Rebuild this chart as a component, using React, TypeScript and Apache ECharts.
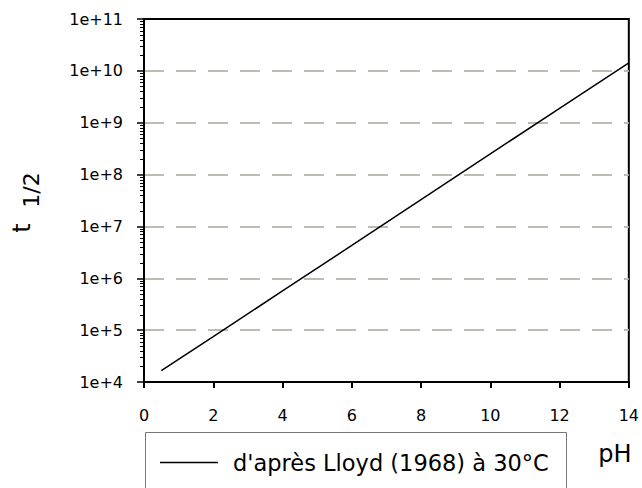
import React, { useEffect, useRef } from "react";
import * as echarts from "echarts";

// Data (half-life vs pH, straight line on a log scale)
const seriesName = "d'après Lloyd (1968) à 30°C";
const phValues = [0.5, 2, 4, 6, 8, 10, 12, 14];
const halfLifeValues = [1.65e4, 7.5e4, 5.7e5, 4.3e6, 3.3e7, 2.5e8, 1.9e9, 1.42e10];

// Axis definitions
const xTicks = [0, 2, 4, 6, 8, 10, 12, 14];
const yTickValues = [1e4, 1e5, 1e6, 1e7, 1e8, 1e9, 1e10, 1e11];
const yTickLabels = ["1e+4", "1e+5", "1e+6", "1e+7", "1e+8", "1e+9", "1e+10", "1e+11"];
const minorMultipliers = [2, 3, 4, 5, 6, 7, 8, 9];

const FONT = "DejaVu Sans";

export default function App() {
  const ref = useRef<HTMLDivElement | null>(null);

  useEffect(() => {
    if (!ref.current) return;
    const chart = echarts.init(ref.current, null, { renderer: "svg" });

    // log-distributed minor tick positions (axis decoration, drawn on a helper strip grid)
    const minorTicks: number[][] = [];
    for (let i = 0; i < yTickValues.length - 1; i++) {
      for (const m of minorMultipliers) minorTicks.push([1, yTickValues[i] * m]);
    }

    const labelFor = (v: number) => {
      const idx = yTickValues.findIndex((t) => Math.abs(Math.log10(t) - Math.log10(v)) < 1e-6);
      return idx >= 0 ? yTickLabels[idx] : "";
    };

    const yMin = yTickValues[0];
    const yMax = yTickValues[yTickValues.length - 1];

    chart.setOption({
      animation: false,
      backgroundColor: "#ffffff",
      grid: [
        {
          left: 144, right: 13, top: 19, bottom: 106,
          show: true, borderColor: "#000", borderWidth: 2, backgroundColor: "transparent",
        },
        // thin strip left of the y axis that carries the minor ticks
        { left: 138, width: 6, top: 19, bottom: 106, show: false },
      ],
      xAxis: [
        {
          type: "value", gridIndex: 0,
          min: xTicks[0], max: xTicks[xTicks.length - 1], interval: 2,
          axisLine: { show: true, lineStyle: { color: "#000", width: 2 } },
          axisTick: { show: true, length: 6, lineStyle: { color: "#000", width: 2 } },
          axisLabel: { color: "#000", fontFamily: FONT, fontSize: 16, margin: 25 },
          splitLine: { show: false },
        },
        { type: "value", gridIndex: 1, min: 0, max: 1, show: false },
      ],
      yAxis: [
        {
          type: "log", logBase: 10, gridIndex: 0,
          min: yMin, max: yMax, splitNumber: 7,
          axisLine: { show: true, lineStyle: { color: "#000", width: 2 } },
          axisTick: { show: true, length: 7, lineStyle: { color: "#000", width: 1.5 } },
          axisLabel: {
            color: "#000", fontFamily: FONT, fontSize: 16, margin: 21,
            formatter: (v: number) => labelFor(v),
          },
          splitLine: {
            show: true, showMinLine: false, showMaxLine: false,
            lineStyle: { color: "#bcbcb0", width: 2, type: [20, 12] },
          },
        },
        { type: "log", logBase: 10, gridIndex: 1, min: yMin, max: yMax, show: false },
      ],
      legend: {
        show: true, data: [seriesName], left: 160, top: 451, icon: "rect",
        itemWidth: 58, itemHeight: 1.6, itemGap: 10, padding: 0,
        textStyle: { color: "#000", fontFamily: FONT, fontSize: 22.5, padding: [0, 0, 0, 10] },
      },
      series: [
        {
          name: seriesName, type: "line", symbol: "none",
          xAxisIndex: 0, yAxisIndex: 0,
          data: phValues.map((x, i) => [x, halfLifeValues[i]]),
          lineStyle: { color: "#000", width: 1.5 }, itemStyle: { color: "#000" }, z: 5,
        },
        {
          name: "minorTicks", type: "custom", silent: true,
          xAxisIndex: 1, yAxisIndex: 1,
          encode: { x: 0, y: 1 },
          data: minorTicks,
          z: 6,
          renderItem: (params: any, api: any) => {
            const p = api.coord([api.value(0), api.value(1)]);
            const y = Math.round(p[1]) + 0.5;
            return {
              type: "line",
              shape: { x1: p[0] - 4, y1: y, x2: p[0], y2: y },
              style: { stroke: "#000", lineWidth: 1 },
            };
          },
        },
      ],
      graphic: [
        { type: "rect", shape: { x: 145.5, y: 432.5, width: 421, height: 80 },
          style: { fill: "none", stroke: "#777", lineWidth: 1 }, silent: true },
        { type: "text", x: 615, y: 454,
          style: { text: "pH", font: `24px ${FONT}`, fill: "#000", textAlign: "center", textVerticalAlign: "middle" } },
        { type: "text", x: 22, y: 228, rotation: Math.PI / 2,
          style: { text: "t", font: `24px ${FONT}`, fill: "#000", textAlign: "center", textVerticalAlign: "middle" } },
        { type: "text", x: 31, y: 190, rotation: Math.PI / 2,
          style: { text: "1/2", font: `22px ${FONT}`, fill: "#000", textAlign: "center", textVerticalAlign: "middle" } },
      ],
    });

    return () => chart.dispose();
  }, []);

  return (
    <div ref={ref} style={{ position: "fixed", left: 0, top: 0, width: 642, height: 488, background: "#fff" }} />
  );
}
